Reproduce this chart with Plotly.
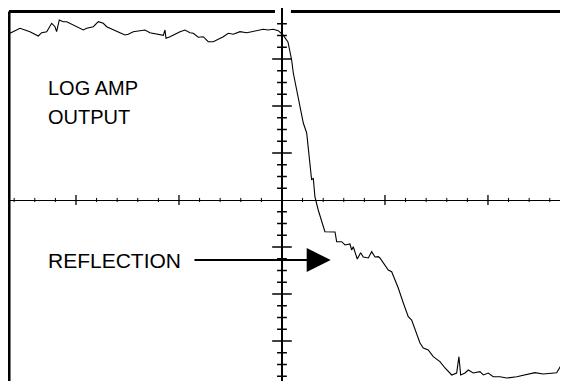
import plotly.graph_objects as go

# Scope trace (x, y in graticule divisions)
trace_x = [-2.641, -2.592, -2.544, -2.495, -2.447, -2.366, -2.333, -2.284, -2.236, -2.204,
           -2.188, -2.162, -2.123, -2.090, -2.042, -1.993, -1.961, -1.929, -1.896, -1.832,
           -1.783, -1.735, -1.702, -1.638, -1.573, -1.524, -1.492, -1.444, -1.379, -1.330,
           -1.282, -1.217, -1.152, -1.136, -1.126, -1.087, -1.039, -0.990, -0.942, -0.893,
           -0.861, -0.813, -0.764, -0.716, -0.667, -0.618, -0.570, -0.521, -0.473, -0.408,
           -0.343, -0.294, -0.246, -0.182, -0.133, -0.084, -0.036, -0.003,
           0.010, 0.058, 0.094, 0.110, 0.207, 0.240, 0.288, 0.304, 0.320, 0.352,
           0.417, 0.515, 0.531, 0.580, 0.612, 0.660, 0.677, 0.692, 0.731, 0.764,
           0.789, 0.838, 0.871, 0.903, 0.935, 0.951, 0.983, 1.032, 1.065, 1.129,
           1.178, 1.226, 1.259, 1.291, 1.340, 1.372, 1.420, 1.469, 1.534, 1.583,
           1.648, 1.696, 1.718, 1.735, 1.777, 1.809, 1.857, 1.922, 1.955, 2.003,
           2.051, 2.117, 2.182, 2.279, 2.343, 2.456, 2.537, 2.667, 2.731, 2.748,
           2.764, 2.774]
trace_y = [3.547, 3.602, 3.653, 3.617, 3.581, 3.489, 3.560, 3.581, 3.760, 3.687,
           3.581, 3.830, 3.794, 3.794, 3.745, 3.687, 3.653, 3.617, 3.653, 3.687,
           3.794, 3.760, 3.687, 3.632, 3.560, 3.511, 3.526, 3.581, 3.602, 3.617,
           3.560, 3.532, 3.504, 3.617, 3.440, 3.474, 3.532, 3.581, 3.617, 3.560,
           3.547, 3.462, 3.474, 3.368, 3.368, 3.419, 3.474, 3.547, 3.526, 3.581,
           3.560, 3.581, 3.602, 3.632, 3.617, 3.632, 3.602, 3.547,
           3.511, 3.362, 2.979, 2.702, 1.638, 1.426, 0.426, 0.468, 0.064, -0.213,
           -0.674, -0.681, -0.887, -0.887, -0.957, -0.936, -1.064, -0.994, -1.255, -1.121,
           -1.213, -1.234, -1.100, -1.213, -1.206, -1.234, -1.340, -1.489, -1.526, -1.872,
           -2.191, -2.483, -2.553, -2.766, -3.043, -3.149, -3.191, -3.334, -3.440, -3.574,
           -3.723, -3.681, -3.334, -3.723, -3.681, -3.617, -3.681, -3.653, -3.723, -3.681,
           -3.760, -3.760, -3.787, -3.760, -3.723, -3.674, -3.702, -3.674, -3.440, -3.404,
           -3.760, -3.255]

# Graticule tick positions (divisions)
h_minor = [k * 0.2 for k in range(-13, 14) if k % 5 != 0]
h_major = [-2, -1, 1, 2]
v_minor = [k * 0.25 for k in range(-15, 16) if k % 4 != 0]
v_major = [-3, -2, -1, 1, 2, 3]

labels = ["LOG AMP", "OUTPUT", "REFLECTION"]

X_RANGE = [-2.660, 2.777]
Y_RANGE = [-3.851, 4.085]
FRAME_X = -2.650
FRAME_Y = 4.011

fig = go.Figure()

# ticks on center horizontal line
fig.add_trace(go.Scatter(x=h_minor, y=[0] * len(h_minor), mode="markers",
                         marker=dict(symbol="line-ns", size=3, line=dict(width=1, color="black")),
                         hoverinfo="skip"))
fig.add_trace(go.Scatter(x=h_major, y=[0] * len(h_major), mode="markers",
                         marker=dict(symbol="line-ns", size=7, line=dict(width=1.3, color="black")),
                         hoverinfo="skip"))
# ticks on center vertical line
fig.add_trace(go.Scatter(x=[0] * len(v_minor), y=v_minor, mode="markers",
                         marker=dict(symbol="line-ew", size=7, line=dict(width=1.5, color="black")),
                         hoverinfo="skip"))
fig.add_trace(go.Scatter(x=[0] * len(v_major), y=v_major, mode="markers",
                         marker=dict(symbol="line-ew", size=14, line=dict(width=1.5, color="black")),
                         hoverinfo="skip"))

# the signal trace
fig.add_trace(go.Scatter(x=trace_x, y=trace_y, mode="lines",
                         line=dict(color="black", width=1.1), hoverinfo="skip"))

# frame
fig.add_shape(type="line", x0=FRAME_X, x1=FRAME_X, y0=Y_RANGE[0] - 1, y1=FRAME_Y,
              line=dict(color="black", width=3))
fig.add_shape(type="line", x0=FRAME_X, x1=-0.068, y0=FRAME_Y, y1=FRAME_Y,
              line=dict(color="black", width=3))
fig.add_shape(type="line", x0=0.087, x1=X_RANGE[1] + 1, y0=FRAME_Y, y1=FRAME_Y,
              line=dict(color="black", width=3))

font = dict(family="Liberation Sans, Arial, sans-serif", size=20, color="black")
font_r = dict(family="Liberation Sans, Arial, sans-serif", size=21, color="black")
fig.add_annotation(x=-2.291, y=2.383, text=labels[0], showarrow=False,
                   xanchor="left", yanchor="middle", font=font)
fig.add_annotation(x=-2.291, y=1.766, text=labels[1], showarrow=False,
                   xanchor="left", yanchor="middle", font=font)
fig.add_annotation(x=-2.291, y=-1.277, text=labels[2], showarrow=False,
                   xanchor="left", yanchor="middle", font=font_r)
# arrow
fig.add_annotation(x=0.473, y=-1.277, ax=-0.864, ay=-1.277, axref="x", ayref="y",
                   xref="x", yref="y", text="", showarrow=True,
                   arrowhead=2, arrowwidth=2, arrowsize=2.4, arrowcolor="black")

# page body keeps an 8 px margin, so the figure is 8 px smaller each way
fig.update_layout(
    width=560, height=373,
    margin=dict(l=0, r=0, t=0, b=0),
    paper_bgcolor="white", plot_bgcolor="white",
    showlegend=False,
    xaxis=dict(range=X_RANGE, showgrid=False, showticklabels=False, ticks="",
               zeroline=True, zerolinecolor="black", zerolinewidth=1.5, fixedrange=True),
    yaxis=dict(range=Y_RANGE, showgrid=False, showticklabels=False, ticks="",
               zeroline=True, zerolinecolor="black", zerolinewidth=1, fixedrange=True),
)

fig.write_html("out.html")
